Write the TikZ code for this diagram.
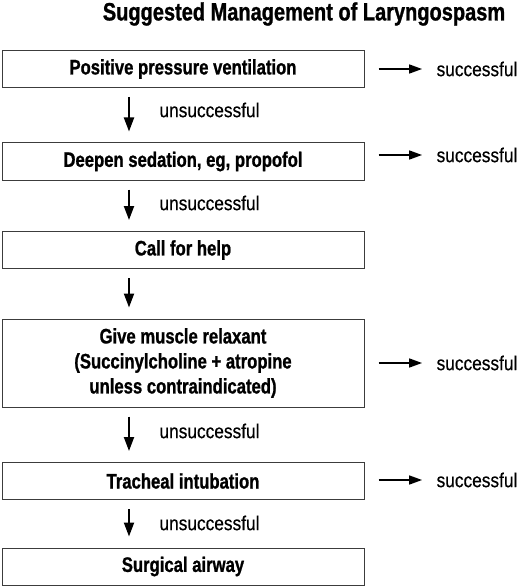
\documentclass[tikz,border=0pt]{standalone}
\usepackage{fontspec}
\setmainfont{Liberation Sans}
\newfontfamily\condfont{Liberation Sans}[FakeStretch=0.794, BoldFeatures={FakeBold=1.0}]
\newfontfamily\titlefont{Liberation Sans}[FakeStretch=0.80, BoldFeatures={FakeBold=1.0}]
\newfontfamily\notefont{Liberation Sans}[FakeStretch=0.865, FakeBold=0.4]
\usetikzlibrary{shapes,arrows,arrows.meta}
\usetikzlibrary{calc}
\definecolor{boxgray}{RGB}{60,60,60}

\begin{document}
\begin{tikzpicture}[x=1pt,y=-1pt]

\tikzstyle{step_block} = [draw=boxgray, line width=1, minimum width=362, minimum height=37,
inner sep=0, align=center, font=\condfont\bfseries\fontsize{21}{25}\selectfont]
\tikzstyle{note} = [anchor=center, font=\notefont\fontsize{20}{22}\selectfont]
\tikzstyle{flow} = [-{Triangle[length=14,width=10]}, line width=2, shorten <=9, shorten >=11]
\tikzstyle{side} = [-{Triangle[length=13,width=9]}, line width=1.6]

\useasboundingbox (0,0) rectangle (520,588);

\node[anchor=center, font=\titlefont\bfseries\fontsize{25}{28}\selectfont] (title) at (304,14) {Suggested Management of Laryngospasm};

\node [step_block] (b1) at (183,69) {Positive pressure ventilation};
\node [step_block] (b2) at (183,161.5) {Deepen sedation, eg, propofol};
\node [step_block] (b3) at (183,250) {Call for help};
\node [step_block, minimum height=88] (b4) at (183,363) {Give muscle relaxant\\(Succinylcholine + atropine\\unless contraindicated)};
\node [step_block] (b5) at (183,481) {Tracheal intubation};
\node [step_block] (b6) at (183,566.5) {Surgical airway};

\node [note] (u1) at (209.5,110) {unsuccessful};
\node [note] (u2) at (209.5,203) {unsuccessful};
\node [note] (u4) at (209.5,431) {unsuccessful};
\node [note] (u5) at (209.5,523) {unsuccessful};

\node [note] (s1) at (477,69) {successful};
\node [note] (s2) at (477,155) {successful};
\node [note] (s4) at (477,363) {successful};
\node [note] (s5) at (477,480) {successful};

\draw[flow] ([xshift=-54]b1.south) -- ([xshift=-54]b2.north);
\draw[flow] ([xshift=-54]b2.south) -- ([xshift=-54]b3.north);
\draw[flow] ([xshift=-54]b3.south) -- ([xshift=-54]b4.north);
\draw[flow] ([xshift=-54]b4.south) -- ([xshift=-54]b5.north);
\draw[flow] ([xshift=-54]b5.south) -- ([xshift=-54]b6.north);

\draw[side] ([xshift=14]b1.east |- s1) -- ([xshift=-11]s1.west);
\draw[side] ([xshift=14]b2.east |- s2) -- ([xshift=-11]s2.west);
\draw[side] ([xshift=14]b4.east |- s4) -- ([xshift=-11]s4.west);
\draw[side] ([xshift=14]b5.east |- s5) -- ([xshift=-11]s5.west);

\end{tikzpicture}
\end{document}
